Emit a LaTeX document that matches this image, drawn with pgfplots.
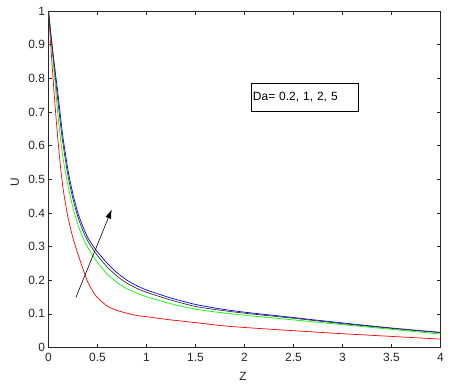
\documentclass[border=0pt]{standalone}
\usepackage{fontspec}
\setmainfont{Liberation Sans}
\usepackage{pgfplots}
\pgfplotsset{compat=1.18}
\usetikzlibrary{arrows.meta}

\begin{document}
\begin{tikzpicture}
\begin{axis}[
  scale only axis,
  width=392bp,
  height=336.5bp,
  xmin=0, xmax=4,
  ymin=0, ymax=1,
  xtick={0,0.5,...,4},
  ytick={0,0.1,...,1},
  clip=false,
  axis line style={black!85, line width=0.6pt},
  tick style={black!85, line width=0.6pt},
  tick align=inside,
  major tick length=4bp,
  /pgf/number format/assume math mode=true,
  tick label style={font=\fontsize{12}{14}\selectfont, black!85},
  xticklabel style={yshift=-2bp},
  label style={font=\fontsize{12}{14}\selectfont, black!85},
  xlabel={Z},
  ylabel={U},
  x label style={at={(axis description cs:0.496,-0.087)}, anchor=center},
  y label style={at={(axis description cs:-0.086,0.492)}, anchor=center},
  every axis plot/.append style={smooth, tension=0.4, line width=0.7pt},
]
% Da = 0.2
\addplot[red] coordinates {
  (0,1.0)(0.025,0.89)(0.05,0.785)(0.075,0.69)(0.1,0.605)(0.125,0.53)
  (0.15,0.47)(0.175,0.425)(0.2,0.385)(0.25,0.325)(0.3,0.278)(0.35,0.235)
  (0.4,0.195)(0.45,0.168)(0.5,0.148)(0.6,0.123)(0.7,0.11)(0.8,0.102)
  (0.9,0.095)(1.0,0.0915)(1.25,0.082)(1.5,0.074)(1.75,0.0655)(2,0.0595)
  (2.5,0.05)(3,0.041)(3.5,0.033)(4,0.025)
};
% Da = 1
\addplot[green] coordinates {
  (0,1.0)(0.025,0.92)(0.05,0.845)(0.075,0.76)(0.1,0.68)(0.125,0.615)
  (0.15,0.56)(0.2,0.48)(0.25,0.415)(0.3,0.365)(0.35,0.327)(0.4,0.298)
  (0.45,0.274)(0.5,0.253)(0.6,0.218)(0.7,0.193)(0.8,0.175)(0.9,0.162)
  (1.0,0.151)(1.25,0.13)(1.5,0.114)(1.75,0.104)(2,0.096)(2.5,0.082)
  (3,0.068)(3.5,0.054)(4,0.040)
};
% Da = 5
\addplot[blue] coordinates {
  (0,1.0)(0.025,0.93)(0.05,0.865)(0.075,0.805)(0.1,0.745)(0.125,0.68)
  (0.15,0.62)(0.2,0.525)(0.25,0.455)(0.3,0.40)(0.35,0.36)(0.4,0.327)
  (0.45,0.304)(0.5,0.284)(0.6,0.25)(0.7,0.222)(0.8,0.2)(0.9,0.184)
  (1.0,0.171)(1.25,0.147)(1.5,0.128)(1.75,0.115)(2,0.105)(2.5,0.089)
  (3,0.073)(3.5,0.058)(4,0.045)
};
% Da = 2
\addplot[black!80] coordinates {
  (0,1.0)(0.025,0.926)(0.05,0.858)(0.075,0.789)(0.1,0.722)(0.125,0.657)
  (0.15,0.601)(0.2,0.509)(0.25,0.441)(0.3,0.388)(0.35,0.348)(0.4,0.317)
  (0.45,0.294)(0.5,0.273)(0.6,0.239)(0.7,0.212)(0.8,0.191)(0.9,0.176)
  (1.0,0.164)(1.25,0.141)(1.5,0.122)(1.75,0.111)(2,0.102)(2.5,0.087)
  (3,0.071)(3.5,0.057)(4,0.044)
};
\draw[black, line width=0.6pt, -{Latex[length=9bp,width=6bp]}]
  (axis cs:0.28,0.149) -- (axis cs:0.645,0.41);
\node[draw=black, line width=0.6pt, fill=white, anchor=west,
      text width=103bp, inner xsep=2bp, inner ysep=0pt, minimum height=28.4bp,
      align=left, font=\fontsize{12}{14}\selectfont]
  at (axis cs:2.063,0.743) {Da= 0.2, 1, 2, 5};
\path (rel axis cs:-0.1237,-0.1174) rectangle (rel axis cs:1.0268,1.0327);
\end{axis}
\end{tikzpicture}
\end{document}
